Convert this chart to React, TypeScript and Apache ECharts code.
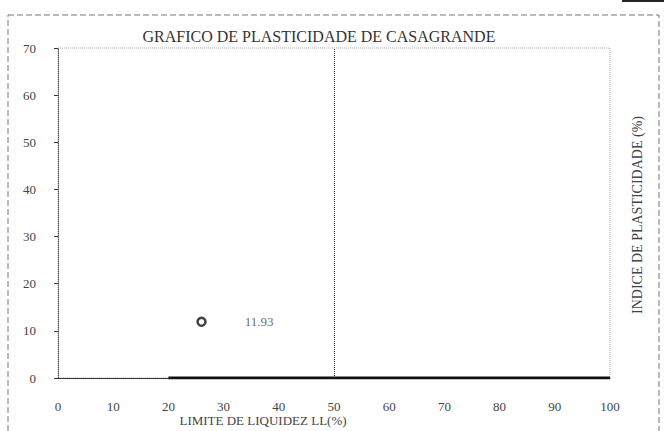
import React, { useEffect, useRef } from "react";
import * as echarts from "echarts";

const titleText = "GRAFICO DE PLASTICIDADE DE CASAGRANDE";
const xAxisName = "LIMITE DE LIQUIDEZ LL(%)";
const yAxisName = "INDICE DE PLASTICIDADE (%)";
const xTicks = [0, 10, 20, 30, 40, 50, 60, 70, 80, 90, 100];
const yTicks = [0, 10, 20, 30, 40, 50, 60, 70];
const sampleLL = [26];
const samplePI = [11.93];
const baseLineX = [20, 100];
const baseLineY = [0, 0];
const dividerLL = 50;

const FONT = "Liberation Serif";

export default function App() {
  const ref = useRef<HTMLDivElement>(null);
  useEffect(() => {
    document.body.style.margin = "0";
    const chart = echarts.init(ref.current!, null, { renderer: "svg" });
    chart.setOption({
      animation: false,
      backgroundColor: "#ffffff",
      title: {
        text: titleText,
        left: 314,
        top: 23,
        textAlign: "center",
        textStyle: { fontFamily: FONT, fontSize: 16, fontWeight: "normal", color: "#333" },
      },
      grid: {
        left: 58,
        top: 48,
        right: 54,
        bottom: 53,
        outerBoundsMode: "none",
        containLabel: false,
        show: true,
        borderColor: "#aaa",
        borderWidth: 1,
        borderType: "dotted",
      },
      xAxis: {
        type: "value",
        min: xTicks[0],
        max: xTicks[xTicks.length - 1],
        interval: 10,
        axisLine: { lineStyle: { color: "#333", width: 1 } },
        axisTick: { show: false },
        splitLine: { show: false },
        axisLabel: { fontFamily: FONT, fontSize: 13, color: "#444", margin: 22 },
      },
      yAxis: {
        type: "value",
        min: yTicks[0],
        max: yTicks[yTicks.length - 1],
        interval: 10,
        axisLine: { show: true, lineStyle: { color: "#555", type: "dotted" } },
        axisTick: { show: true, length: 4, lineStyle: { color: "#333" } },
        splitLine: { show: false },
        axisLabel: { fontFamily: FONT, fontSize: 13, color: "#444", margin: 22 },
      },
      graphic: [
        {
          type: "rect",
          shape: { x: 8, y: 15, width: 651, height: 430 },
          style: { fill: "none", stroke: "#777", lineWidth: 1, lineDash: [6, 3] },
          silent: true,
        },
        {
          type: "line",
          shape: { x1: 622, y1: 1, x2: 664, y2: 1 },
          style: { stroke: "#222", lineWidth: 2 },
          silent: true,
        },
        {
          type: "text",
          x: 263,
          y: 420,
          style: {
            text: xAxisName,
            fontFamily: FONT,
            fontSize: 13,
            fill: "#444",
            align: "center",
            verticalAlign: "middle",
          },
          silent: true,
        },
        {
          type: "text",
          x: 637,
          y: 215,
          rotation: Math.PI / 2,
          style: {
            text: yAxisName,
            fontFamily: FONT,
            fontSize: 14,
            fill: "#444",
            align: "center",
            verticalAlign: "middle",
          },
          silent: true,
        },
      ],
      series: [
        {
          type: "line",
          data: baseLineX.map((x, i) => [x, baseLineY[i]]),
          symbol: "none",
          lineStyle: { color: "#111", width: 3 },
          z: 3,
          markLine: {
            silent: true,
            symbol: "none",
            label: { show: false },
            lineStyle: { color: "#333", type: "dotted", width: 1 },
            data: [[{ coord: [dividerLL, 0] }, { coord: [dividerLL, 70] }]],
          },
        },
        {
          type: "scatter",
          data: sampleLL.map((x, i) => [x, samplePI[i]]),
          symbol: "circle",
          symbolSize: 8,
          itemStyle: { color: "#fff", borderColor: "#111", borderWidth: 2.5 },
          label: {
            show: true,
            position: "right",
            distance: 38,
            formatter: (p: any) => String(p.value[1]),
            fontFamily: FONT,
            fontSize: 13,
            color: "#444",
          },
          z: 4,
        },
      ],
    });
    return () => chart.dispose();
  }, []);
  return <div ref={ref} style={{ position: "absolute", left: 0, top: 0, width: 664, height: 431 }} />;
}
